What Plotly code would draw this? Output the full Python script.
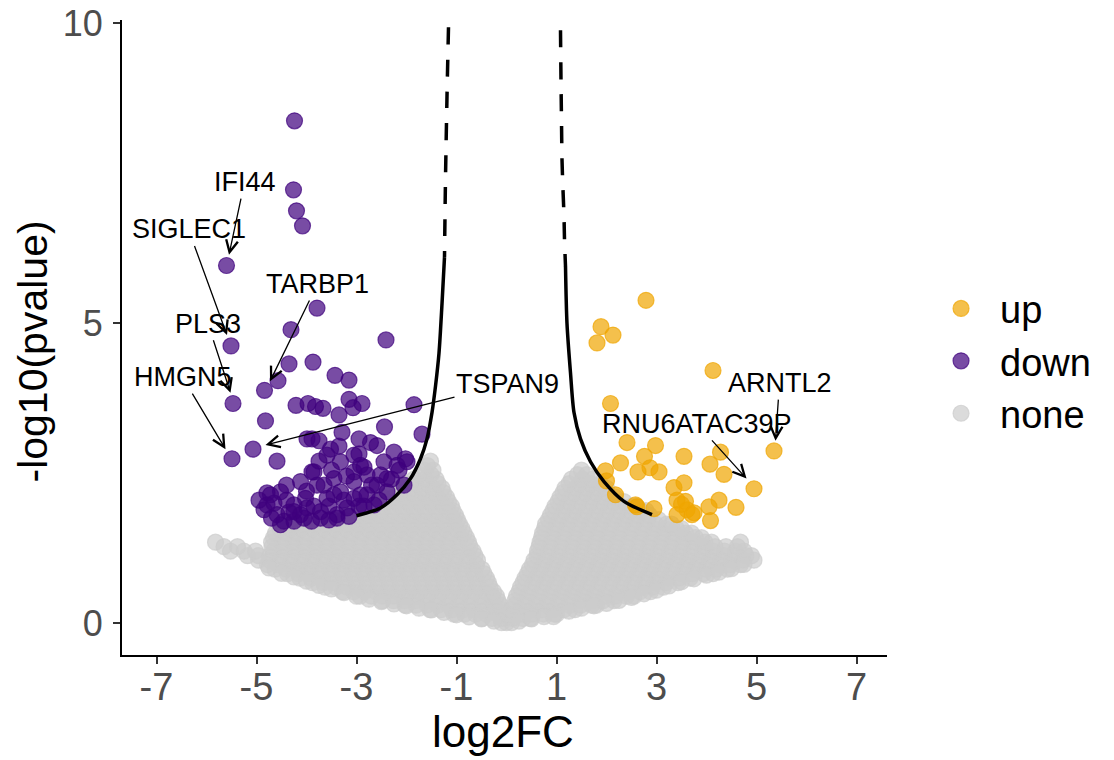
import plotly.graph_objects as go

# ---------------- data ----------------
up_x = [2.79, 1.89, 2.13, 1.81, 4.13, 2.08, 5.35, 4.95, 2.41, 2.98, 2.76, 2.28, 2.63, 2.87, 3.05,
        3.55, 4.28, 4.07, 4.35, 1.98, 2.00, 3.35, 3.55, 3.41, 3.58, 3.61, 3.71, 3.41, 4.25, 4.05,
        4.59, 4.08, 2.95, 2.58, 2.18, 2.61, 3.75, 3.50]
up_y = [5.38, 4.94, 4.80, 4.67, 4.21, 3.66, 2.87, 2.24, 3.01, 2.96, 2.78, 2.67, 2.52, 2.59, 2.52,
        2.78, 2.85, 2.65, 2.48, 2.54, 2.37, 2.26, 2.34, 2.05, 2.03, 1.89, 1.81, 1.81, 2.05, 1.94,
        1.93, 1.71, 1.91, 1.97, 2.14, 1.94, 1.84, 1.98]

down_x = [-4.24, -4.26, -4.20, -4.08, -5.60, -3.79, -4.31, -2.41, -5.51, -4.35, -3.87, -3.43, -3.15,
          -4.57, -4.84, -5.47, -4.21, -3.97, -3.82, -3.67, -3.35, -3.15, -2.89, -3.07, -1.85, -4.82,
          -2.44, -1.69, -5.49, -5.07, -4.59, -3.75, -3.99, -3.89, -3.29, -3.52, -2.95, -2.72, -2.59,
          -2.25, -2.02, -2.95, -3.32, -3.89, -3.65, -3.45, -3.05, -2.92, -2.45, -2.19, -2.59, -2.39,
          -4.72, -4.79, -4.52, -4.59, -4.25, -4.02, -3.79, -3.59, -3.32, -3.05, -2.79, -4.12, -3.72,
          -3.39, -2.65, -4.79, -4.85, -4.52, -4.25, -3.99, -3.45, -3.19, -2.92, -2.52, -2.05, -2.39,
          -3.05, -2.79, -3.05, -3.59, -3.85, -4.12, -3.72, -4.25, -3.39, -1.99,
          -4.65, -4.40, -4.35, -4.05, -3.85, -3.55, -3.25, -2.95, -2.70, -2.85, -3.20, -3.50,
          -3.75, -4.00, -4.40, -4.70, -4.95, -4.45, -3.90, -3.55, -3.15, -2.85, -2.55, -2.30,
          -2.15, -3.35]
down_y = [8.37, 7.22, 6.87, 6.62, 5.96, 5.25, 4.89, 4.72, 4.62, 4.32, 4.35, 4.13, 4.05,
          4.04, 3.88, 3.66, 3.63, 3.66, 3.61, 3.58, 3.47, 3.73, 3.66, 3.59, 3.64, 3.37,
          3.27, 3.15, 2.74, 2.90, 2.70, 3.04, 3.07, 3.07, 3.18, 2.90, 3.07, 3.01, 2.96,
          2.85, 2.74, 2.82, 2.69, 2.52, 2.30, 2.41, 2.36, 2.63, 2.69, 2.63, 2.30, 2.41,
          2.14, 1.97, 2.19, 1.81, 1.97, 2.08, 2.30, 2.08, 2.19, 2.08, 2.14, 1.81, 1.86,
          1.81, 1.97, 2.17, 1.89, 1.64, 1.86, 1.92, 2.14, 1.92, 2.14, 2.47, 2.30, 2.19,
          2.52, 2.47, 2.80, 2.80, 2.52, 2.36, 1.75, 1.70, 1.75, 2.69,
          2.00, 2.05, 1.85, 1.75, 1.95, 1.95, 2.05, 1.95, 2.30, 2.60, 2.45, 2.55,
          2.70, 2.20, 2.30, 1.75, 2.05, 1.70, 1.70, 1.72, 1.78, 1.95, 2.05, 2.40,
          2.55, 2.95]

# non-significant genes: the grey cloud, read row by row (-log10 p level, log2FC values)
gray_levels = [0.01, 0.08, 0.15, 0.225, 0.30, 0.375, 0.45, 0.525, 0.60, 0.675, 0.75, 0.825, 0.90,
               0.975, 1.05, 1.125, 1.20, 1.275, 1.35, 1.425, 1.50, 1.575, 1.65, 1.725, 1.80, 1.875,
               1.95, 2.025, 2.10, 2.175, 2.25, 2.325, 2.40, 2.475, 2.55, 2.625, 2.70]
gray_row_x = [
    [-0.10, 0.00, 0.10],
    [-0.49, -0.29, -0.09, 0.13, 0.33, 0.48],
    [-1.05, -0.84, -0.62, -0.40, -0.18, -0.04, 0.08, 0.30, 0.52, 0.74, 0.96],
    [-1.53, -1.31, -1.09, -0.87, -0.65, -0.43, -0.21, -0.08, 0.09, 0.27, 0.49, 0.71, 0.93, 1.15,
     1.37],
    [-2.03, -1.81, -1.59, -1.37, -1.15, -0.93, -0.71, -0.49, -0.27, -0.12, 0.16, 0.38, 0.60, 0.82,
     1.04, 1.26, 1.48, 1.70, 1.80],
    [-2.48, -2.26, -2.04, -1.82, -1.60, -1.38, -1.16, -0.94, -0.72, -0.50, -0.28, -0.17, 0.17,
     0.39, 0.61, 0.83, 1.05, 1.27, 1.49, 1.71, 1.93, 2.15],
    [-2.93, -2.70, -2.48, -2.26, -2.04, -1.82, -1.60, -1.38, -1.16, -0.94, -0.72, -0.50, -0.28,
     -0.20, 0.20, 0.42, 0.64, 0.86, 1.08, 1.30, 1.52, 1.74, 1.96, 2.18, 2.40, 2.55],
    [-3.28, -3.06, -2.84, -2.62, -2.40, -2.18, -1.96, -1.74, -1.52, -1.30, -1.08, -0.86, -0.64,
     -0.42, -0.26, 0.25, 0.47, 0.69, 0.91, 1.13, 1.35, 1.57, 1.79, 2.01, 2.23, 2.45, 2.67, 2.88],
    [-3.63, -3.41, -3.19, -2.97, -2.75, -2.53, -2.31, -2.09, -1.87, -1.65, -1.43, -1.21, -0.99,
     -0.77, -0.55, -0.33, 0.28, 0.50, 0.72, 0.94, 1.16, 1.38, 1.60, 1.82, 2.04, 2.26, 2.48, 2.70,
     2.92, 3.14],
    [-3.88, -3.66, -3.44, -3.22, -3.00, -2.78, -2.56, -2.34, -2.12, -1.90, -1.68, -1.46, -1.24,
     -1.02, -0.80, -0.58, -0.36, 0.33, 0.55, 0.77, 0.99, 1.21, 1.43, 1.65, 1.87, 2.09, 2.31, 2.53,
     2.75, 2.97, 3.19, 3.43],
    [-4.13, -3.91, -3.69, -3.47, -3.25, -3.03, -2.81, -2.59, -2.37, -2.15, -1.93, -1.71, -1.49,
     -1.27, -1.05, -0.83, -0.61, -0.40, 0.37, 0.59, 0.81, 1.03, 1.25, 1.47, 1.69, 1.91, 2.13, 2.35,
     2.57, 2.79, 3.01, 3.23, 3.45, 3.67],
    [-4.38, -4.16, -3.94, -3.72, -3.50, -3.28, -3.06, -2.84, -2.62, -2.40, -2.18, -1.96, -1.74,
     -1.52, -1.30, -1.08, -0.86, -0.64, -0.45, 0.42, 0.64, 0.86, 1.08, 1.30, 1.52, 1.74, 1.96,
     2.18, 2.40, 2.62, 2.84, 3.06, 3.28, 3.50, 3.72, 3.94, 4.13],
    [-4.63, -4.41, -4.19, -3.97, -3.75, -3.53, -3.31, -3.09, -2.87, -2.65, -2.43, -2.21, -1.99,
     -1.77, -1.55, -1.33, -1.11, -0.89, -0.67, -0.49, 0.46, 0.68, 0.90, 1.12, 1.34, 1.56, 1.78,
     2.00, 2.22, 2.44, 2.66, 2.88, 3.10, 3.32, 3.54, 3.76, 3.98, 4.20, 4.42],
    [-4.78, -4.56, -4.34, -4.12, -3.90, -3.68, -3.46, -3.24, -3.02, -2.80, -2.58, -2.36, -2.14,
     -1.92, -1.70, -1.48, -1.26, -1.04, -0.82, -0.60, 0.52, 0.74, 0.96, 1.18, 1.40, 1.62, 1.84,
     2.06, 2.28, 2.50, 2.72, 2.94, 3.16, 3.38, 3.60, 3.82, 4.04, 4.26, 4.48, 4.68],
    [-4.96, -4.74, -4.52, -4.30, -4.08, -3.86, -3.64, -3.42, -3.20, -2.98, -2.76, -2.54, -2.32,
     -2.10, -1.88, -1.66, -1.44, -1.22, -1.00, -0.78, -0.58, 0.55, 0.77, 0.99, 1.21, 1.43, 1.65,
     1.87, 2.09, 2.31, 2.53, 2.75, 2.97, 3.19, 3.41, 3.63, 3.85, 4.07, 4.29, 4.51, 4.73, 4.95],
    [-5.18, -4.96, -4.73, -4.51, -4.29, -4.07, -3.85, -3.63, -3.41, -3.19, -2.97, -2.75, -2.53,
     -2.31, -2.09, -1.87, -1.65, -1.43, -1.21, -0.99, -0.77, -0.63, 0.61, 0.83, 1.05, 1.27, 1.49,
     1.71, 1.93, 2.15, 2.37, 2.59, 2.81, 3.03, 3.25, 3.47, 3.69, 3.91, 4.13, 4.35, 4.57, 4.79,
     4.90],
    [-5.52, -5.25, -5.02, -4.66, -4.44, -4.22, -4.00, -3.78, -3.56, -3.34, -3.12, -2.90, -2.68,
     -2.46, -2.24, -2.02, -1.80, -1.58, -1.36, -1.14, -0.92, -0.67, 0.62, 0.84, 1.06, 1.28, 1.50,
     1.72, 1.94, 2.16, 2.38, 2.60, 2.82, 3.04, 3.26, 3.48, 3.70, 3.92, 4.14, 4.36, 4.58, 4.75],
    [-5.65, -5.38, -4.69, -4.47, -4.25, -4.03, -3.81, -3.59, -3.37, -3.15, -2.93, -2.71, -2.49,
     -2.27, -2.05, -1.83, -1.61, -1.39, -1.17, -0.95, -0.73, 0.65, 0.87, 1.09, 1.31, 1.53, 1.75,
     1.97, 2.19, 2.41, 2.63, 2.85, 3.07, 3.29, 3.51, 3.73, 3.95, 4.17, 4.39, 4.62],
    [-5.82, -4.70, -4.48, -4.26, -4.04, -3.82, -3.60, -3.38, -3.16, -2.94, -2.72, -2.50, -2.28,
     -2.06, -1.84, -1.62, -1.40, -1.18, -0.96, -0.76, 0.67, 0.89, 1.11, 1.33, 1.55, 1.77, 1.99,
     2.21, 2.43, 2.65, 2.87, 3.09, 3.31, 3.53, 3.75, 3.97, 4.10, 4.68],
    [-4.66, -4.44, -4.22, -4.00, -3.78, -3.56, -3.34, -3.12, -2.90, -2.68, -2.46, -2.24, -2.02,
     -1.80, -1.58, -1.36, -1.14, -0.92, -0.80, 0.70, 0.92, 1.14, 1.36, 1.58, 1.80, 2.02, 2.24,
     2.46, 2.68, 2.90, 3.12, 3.34, 3.56, 3.78, 3.90],
    [-4.62, -4.40, -4.18, -3.96, -3.74, -3.52, -3.30, -3.08, -2.86, -2.64, -2.42, -2.20, -1.98,
     -1.76, -1.54, -1.32, -1.10, -0.85, 0.72, 0.94, 1.16, 1.38, 1.60, 1.82, 2.04, 2.26, 2.48, 2.70,
     2.92, 3.14, 3.36, 3.58, 3.70],
    [-4.53, -4.31, -4.09, -3.87, -3.65, -3.43, -3.21, -2.99, -2.77, -2.55, -2.33, -2.11, -1.89,
     -1.67, -1.45, -1.23, -1.01, -0.89, 0.76, 0.98, 1.20, 1.42, 1.64, 1.86, 2.08, 2.30, 2.52,
     2.74, 2.96, 3.18, 3.40, 3.50],
    [-4.48, -4.26, -4.04, -3.82, -3.60, -3.38, -3.16, -2.94, -2.72, -2.50, -2.28, -2.06, -1.84,
     -1.62, -1.40, -1.18, -0.94, 0.78, 1.00, 1.22, 1.44, 1.66, 1.88, 2.10, 2.32, 2.54, 2.76, 2.98,
     3.20, 3.30],
    [-3.48, -3.26, -3.04, -2.82, -2.60, -2.38, -2.16, -1.94, -1.72, -1.50, -1.28, -1.06, -0.98,
     0.84, 1.06, 1.28, 1.50, 1.72, 1.94, 2.16, 2.38, 2.60, 2.82, 3.04],
    [-3.18, -2.96, -2.74, -2.52, -2.30, -2.08, -1.86, -1.64, -1.42, -1.20, -1.02, 0.88, 1.10, 1.32,
     1.54, 1.76, 1.98, 2.20, 2.42, 2.64, 2.86],
    [-2.93, -2.71, -2.49, -2.27, -2.05, -1.83, -1.61, -1.39, -1.17, -1.07, 0.93, 1.15, 1.37, 1.59,
     1.81, 2.03, 2.25, 2.47, 2.69, 2.79],
    [-2.78, -2.56, -2.34, -2.12, -1.90, -1.68, -1.46, -1.26, -1.10, 0.97, 1.19, 1.41, 1.63, 1.85,
     2.07, 2.29, 2.51, 2.60],
    [-2.63, -2.41, -2.19, -1.97, -1.75, -1.53, -1.31, -1.16, 1.03, 1.25, 1.47, 1.69, 1.91, 2.13,
     2.35],
    [-2.48, -2.26, -2.04, -1.82, -1.60, -1.38, -1.20, 1.07, 1.29, 1.51, 1.73, 1.95, 2.17],
    [-2.33, -2.11, -1.89, -1.67, -1.45, -1.26, 1.13, 1.35, 1.57, 1.79, 2.01],
    [-2.13, -1.91, -1.69, -1.47, -1.29, 1.17, 1.39, 1.61, 1.83, 2.00],
    [-2.03, -1.81, -1.59, -1.37, 1.25, 1.47, 1.69, 1.88],
    [-1.85, -1.63, -1.41, 1.30, 1.52, 1.72],
    [-1.73, -1.51, 1.42, 1.60],
    [-1.64, -1.47, 1.50],
    [-1.58],
    [-1.52],
]
# lower edge of the grey cloud
gray_edge_x = [-4.75, -4.50, -4.25, -4.00, -3.75, -3.50, -3.25, -3.00, -2.75, -2.50, -2.25, -2.00,
               -1.75, -1.50, -1.25, -1.00, -0.75, -0.50, -0.25, 0.25, 0.50, 0.75, 1.00, 1.25, 1.50,
               1.75, 2.00, 2.25, 2.50, 2.75, 3.00, 3.25, 3.50, 3.75, 4.00, 4.25, 4.50, 4.75, 0.94]
gray_edge_y = [0.92, 0.83, 0.77, 0.70, 0.63, 0.57, 0.51, 0.45, 0.40, 0.36, 0.32, 0.29,
               0.25, 0.22, 0.18, 0.14, 0.105, 0.07, 0.035, 0.035, 0.07, 0.11, 0.15, 0.20, 0.25,
               0.29, 0.33, 0.38, 0.43, 0.49, 0.55, 0.62, 0.69, 0.74, 0.80, 0.85, 0.91, 0.98, 0.11]

# threshold curves: steep upper (dashed) part and lower (solid) part
curve_left_top_x = [-1.16, -1.19, -1.22, -1.24]
curve_left_top_y = [9.93, 8.78, 7.41, 6.10]
curve_left_low_x = [-1.24, -1.29, -1.35, -1.42, -1.49, -1.59, -1.72, -1.92, -2.19, -2.52, -3.00]
curve_left_low_y = [6.10, 5.32, 4.50, 3.95, 3.51, 3.07, 2.74, 2.41, 2.14, 1.92, 1.79]
curve_right_top_x = [1.08, 1.09, 1.10, 1.11, 1.13, 1.15, 1.16, 1.18]
curve_right_top_y = [9.88, 9.03, 8.37, 7.73, 7.22, 6.78, 6.39, 5.95]
curve_right_low_x = [1.18, 1.21, 1.28, 1.35, 1.48, 1.68, 1.95, 2.35, 2.91]
curve_right_low_y = [5.95, 4.99, 4.17, 3.51, 3.07, 2.69, 2.36, 2.03, 1.81]

# labelled genes: arrow tip and label position
label_text = ["IFI44", "SIGLEC1", "TARBP1", "PLS3", "HMGN5", "TSPAN9", "ARNTL2", "RNU6ATAC39P"]
label_tip_x = [-5.55, -5.59, -4.73, -5.52, -5.62, -4.82, 5.38, 4.80]
label_tip_y = [6.14, 4.80, 4.03, 3.84, 2.90, 2.97, 3.04, 2.41]
label_pos_x = [-5.24, -6.36, -3.78, -5.97, -6.48, 0.02, 5.46, 3.81]
label_pos_y = [7.35, 6.56, 5.65, 4.99, 4.10, 3.99, 4.00, 3.32]

x_ticks = [-7, -5, -3, -1, 1, 3, 5, 7]
y_ticks = [0, 5, 10]

# ---------------- build ----------------
gray_x, gray_y = [], []
for lvl, row in zip(gray_levels, gray_row_x):
    gray_x.extend(row)
    gray_y.extend([lvl] * len(row))
gray_x += gray_edge_x
gray_y += gray_edge_y

FONT = "Liberation Sans, Arial, Helvetica, sans-serif"


def mk(rgb, a=0.7):
    c = "rgba(%d,%d,%d,%s)" % (rgb[0], rgb[1], rgb[2], a)
    return dict(size=16, color=c, line=dict(color=c, width=1.2))


fig = go.Figure()
fig.add_trace(go.Scatter(x=gray_x, y=gray_y, mode="markers", name="none",
                         marker=mk((204, 204, 204)), legendrank=3, hoverinfo="skip"))
fig.add_trace(go.Scatter(x=down_x, y=down_y, mode="markers", name="down",
                         marker=mk((63, 0, 125)), legendrank=2))
fig.add_trace(go.Scatter(x=up_x, y=up_y, mode="markers", name="up",
                         marker=mk((240, 165, 0)), legendrank=1))

for cx, cy, dash in ((curve_left_top_x, curve_left_top_y, "17px,15px"),
                     (curve_left_low_x, curve_left_low_y, "solid"),
                     (curve_right_top_x, curve_right_top_y, "17px,15px"),
                     (curve_right_low_x, curve_right_low_y, "solid")):
    fig.add_trace(go.Scatter(x=cx, y=cy, mode="lines", showlegend=False, hoverinfo="skip",
                             line=dict(color="black", width=3.5, dash=dash, shape="spline",
                                       smoothing=0.8)))

annotations = []
for t, tx, ty, px, py in zip(label_text, label_tip_x, label_tip_y, label_pos_x, label_pos_y):
    annotations.append(dict(x=tx, y=ty, ax=px, ay=py, xref="x", yref="y", axref="x", ayref="y",
                            text=t, showarrow=True, arrowhead=5, arrowsize=1.8, arrowwidth=1.3,
                            arrowcolor="black", font=dict(family=FONT, size=27, color="black")))

annotations.append(dict(text="log2FC", xref="paper", yref="paper", x=0.498, y=-0.12,
                        xanchor="center", yanchor="middle", showarrow=False,
                        font=dict(family=FONT, size=44, color="black")))
annotations.append(dict(text="-log10(pvalue)", xref="paper", yref="paper", x=-0.1163, y=0.478,
                        xanchor="center", yanchor="middle", showarrow=False, textangle=-90,
                        font=dict(family=FONT, size=41, color="black")))

axis_common = dict(showline=True, linecolor="black", linewidth=2, ticks="outside", ticklen=7,
                   tickwidth=2, tickcolor="#333333", showgrid=False, zeroline=False,
                   ticklabeloverflow="allow", automargin=False)

fig.update_layout(
    width=1114, height=760,
    margin=dict(l=122, r=227, t=20, b=105, autoexpand=False),
    paper_bgcolor="white", plot_bgcolor="white",
    font=dict(family=FONT),
    xaxis=dict(range=[-7.69, 7.61], tickvals=x_ticks, ticktext=[str(v) for v in x_ticks],
               ticklabelstandoff=-10, tickfont=dict(family=FONT, size=38, color="#4D4D4D"),
               **axis_common),
    yaxis=dict(range=[-0.53, 10.05], tickvals=y_ticks, ticktext=[str(v) for v in y_ticks],
               ticklabelstandoff=3, tickfont=dict(family=FONT, size=36, color="#4D4D4D"),
               **axis_common),
    legend=dict(x=1.0458, y=0.4626, xanchor="left", yanchor="middle", bgcolor="rgba(0,0,0,0)",
                font=dict(family=FONT, size=38, color="black"), itemsizing="trace",
                itemwidth=68),
    annotations=annotations,
    showlegend=True,
)

fig.write_html("out.html", config={"displayModeBar": False},
               post_script="document.body.style.margin='0px';")
